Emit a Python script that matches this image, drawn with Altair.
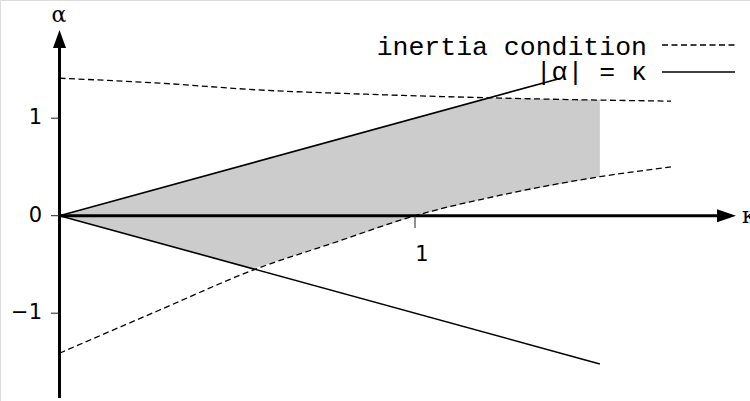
import altair as alt
import pandas as pd

# Upper branch of the inertia condition (kappa, alpha)
upper_kappa = [0.0, 0.28, 0.56, 0.87, 1.2, 1.45, 1.72]
upper_alpha = [1.41, 1.36, 1.29, 1.245, 1.21, 1.19, 1.175]

# Lower branch of the inertia condition
lower_kappa = [0.0, 0.28, 0.55, 0.77, 1.0, 1.24, 1.52, 1.72]
lower_alpha = [-1.41, -0.97, -0.55, -0.28, 0.0, 0.21, 0.40, 0.50]

# The two rays |alpha| = kappa
ray_up_kappa = [0.0, 1.41]
ray_up_alpha = [0.0, 1.41]
ray_down_kappa = [0.0, 1.52]
ray_down_alpha = [0.0, -1.52]

# Admissible region: between the rays, clipped by the inertia condition
shade_kappa = [0.0, 0.283, 0.545, 0.77, 1.0, 1.2, 1.24, 1.4, 1.52]
shade_top = [0.0, 0.283, 0.545, 0.77, 1.0, 1.2, 1.21, 1.195, 1.19]
shade_bottom = [0.0, -0.283, -0.545, -0.28, 0.0, 0.18, 0.21, 0.32, 0.40]

# Axis ticks
x_ticks = [1]
y_ticks = [1, 0, -1]
y_tick_labels = ["1", "0", "\u22121"]

legend_labels = ["inertia condition", "|\u03b1| = \u03ba"]

W, H = 750, 401
X0_PX, X_UNIT = 59.5, 355.5      # pixel of kappa = 0, pixels per unit
Y0_PX, Y_UNIT = 215.7, 97.5      # pixel of alpha = 0, pixels per unit

x_dom = [-X0_PX / X_UNIT, (W - X0_PX) / X_UNIT]
y_dom = [(Y0_PX - H) / Y_UNIT, Y0_PX / Y_UNIT]

xs = alt.Scale(domain=x_dom, nice=False, zero=False)
ys = alt.Scale(domain=y_dom, nice=False, zero=False)


def X(field="k"):
    return alt.X(f"{field}:Q", scale=xs, axis=None)


def Y(field="a"):
    return alt.Y(f"{field}:Q", scale=ys, axis=None)


def px_to_k(px):
    return (px - X0_PX) / X_UNIT


def px_to_a(py):
    return (Y0_PX - py) / Y_UNIT


shade_df = pd.DataFrame({"k": shade_kappa, "top": shade_top, "bot": shade_bottom})
shade = alt.Chart(shade_df).mark_area(color="#cccccc", opacity=1, interpolate="linear").encode(
    x=X(), y=Y("top"), y2="bot:Q"
)

upper_df = pd.DataFrame({"k": upper_kappa, "a": upper_alpha})
lower_df = pd.DataFrame({"k": lower_kappa, "a": lower_alpha})
dash_style = dict(color="black", strokeWidth=1.3, strokeDash=[6, 3.5], interpolate="monotone")
upper_line = alt.Chart(upper_df).mark_line(**dash_style).encode(x=X(), y=Y())
lower_line = alt.Chart(lower_df).mark_line(**dash_style).encode(x=X(), y=Y())

ray_up = alt.Chart(pd.DataFrame({"k": ray_up_kappa, "a": ray_up_alpha})).mark_line(
    color="black", strokeWidth=1.6
).encode(x=X(), y=Y())
ray_down = alt.Chart(pd.DataFrame({"k": ray_down_kappa, "a": ray_down_alpha})).mark_line(
    color="black", strokeWidth=1.6
).encode(x=X(), y=Y())

# Axes drawn as thick lines with arrow heads
x_axis_df = pd.DataFrame({"k": [0.0], "k2": [px_to_k(722)], "a": [0.0]})
x_axis = alt.Chart(x_axis_df).mark_rule(color="black", strokeWidth=3).encode(
    x=X(), x2="k2:Q", y=Y()
)
y_axis_df = pd.DataFrame({"k": [0.0], "a": [px_to_a(398)], "a2": [px_to_a(44)]})
y_axis = alt.Chart(y_axis_df).mark_rule(color="black", strokeWidth=3).encode(
    x=X(), y=Y(), y2="a2:Q"
)
x_arrow = alt.Chart(pd.DataFrame({"k": [px_to_k(726.5)], "a": [0.0]})).mark_point(
    shape="M1,0L-1,0.68L-1,-0.68Z", size=361, filled=True, color="black", opacity=1
).encode(x=X(), y=Y())
y_arrow = alt.Chart(pd.DataFrame({"k": [0.0], "a": [px_to_a(39)]})).mark_point(
    shape="M0,-1L0.72,1L-0.72,1Z", size=324, filled=True, color="black", opacity=1
).encode(x=X(), y=Y())

# Tick marks
y_tick_df = pd.DataFrame({"k": [px_to_k(51)] * 3, "k2": [0.0] * 3, "a": y_ticks, "lab": y_tick_labels})
y_tick_marks = alt.Chart(y_tick_df).mark_rule(color="#222222", strokeWidth=1).encode(
    x=X(), x2="k2:Q", y=Y()
)
y_tick_text = alt.Chart(y_tick_df).mark_text(
    align="right", baseline="middle", font="DejaVu Sans", fontSize=21, dx=-17.5, color="black"
).encode(x=alt.X("k2:Q", scale=xs, axis=None), y=Y(), text="lab:N")

x_tick_df = pd.DataFrame({"k": x_ticks, "a": [0.0], "a2": [px_to_a(228)], "lab": [str(t) for t in x_ticks]})
x_tick_marks = alt.Chart(x_tick_df).mark_rule(color="#222222", strokeWidth=1).encode(
    x=X(), y=Y(), y2="a2:Q"
)
x_tick_text = alt.Chart(x_tick_df).mark_text(
    align="center", baseline="middle", font="DejaVu Sans", fontSize=21, dx=7, dy=39, color="black"
).encode(x=X(), y=Y(), text="lab:N")

alpha_label = alt.Chart(pd.DataFrame({"t": ["\u03b1"]})).mark_text(
    font="DejaVu Serif", fontSize=22, align="center", baseline="middle", color="black"
).encode(x=alt.value(59), y=alt.value(15), text="t:N")
kappa_label = alt.Chart(pd.DataFrame({"t": ["\u03ba"]})).mark_text(
    font="DejaVu Serif", fontSize=22, align="left", baseline="middle", color="black"
).encode(x=alt.value(742), y=alt.value(216), text="t:N")

# Legend: labels on the left, line samples on the right
leg_text1 = alt.Chart(pd.DataFrame({"t": [legend_labels[0]]})).mark_text(
    font="Liberation Mono", fontSize=26.5, align="right", baseline="alphabetic", color="black"
).encode(x=alt.value(647), y=alt.value(55), text="t:N")
leg_text2 = alt.Chart(pd.DataFrame({"t": [legend_labels[1]]})).mark_text(
    font="Liberation Mono", fontSize=26.5, align="right", baseline="alphabetic", color="black"
).encode(x=alt.value(647), y=alt.value(80), text="t:N")
leg_line1 = alt.Chart(pd.DataFrame({"d": [0]})).mark_rule(
    color="black", strokeWidth=1.3, strokeDash=[6, 3.5]
).encode(x=alt.value(662), x2=alt.value(735), y=alt.value(45))
leg_line2 = alt.Chart(pd.DataFrame({"d": [0]})).mark_rule(
    color="black", strokeWidth=1.6
).encode(x=alt.value(662), x2=alt.value(735), y=alt.value(72))

chart = alt.layer(
    shade, upper_line, lower_line, ray_up, ray_down,
    x_axis, y_axis, x_arrow, y_arrow,
    y_tick_marks, y_tick_text, x_tick_marks, x_tick_text,
    alpha_label, kappa_label,
    leg_text1, leg_text2, leg_line1, leg_line2,
).properties(
    width=W, height=H, padding=0, autosize=alt.AutoSizeParams(type="none")
).configure_view(stroke=None).configure(background="white")

chart.save("out.html", embed_options={"renderer": "svg", "actions": False})
